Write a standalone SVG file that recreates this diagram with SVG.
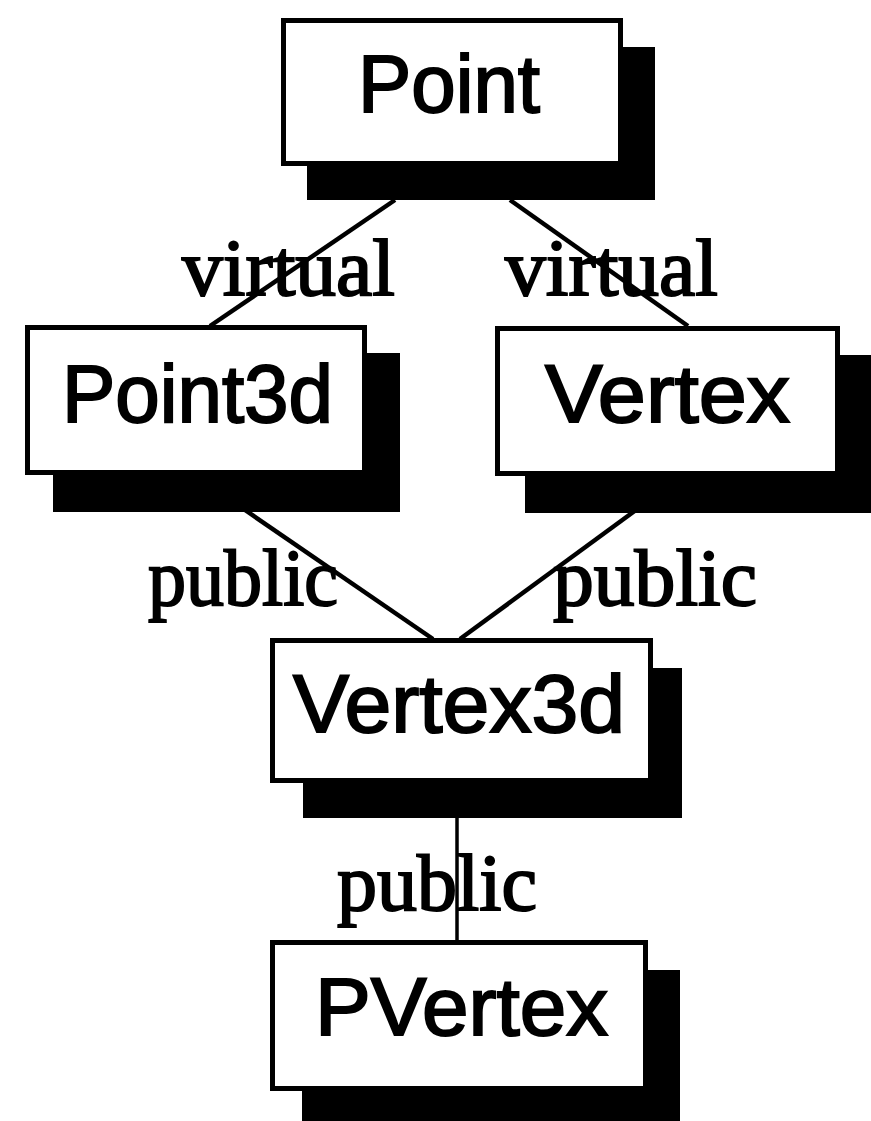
<svg xmlns="http://www.w3.org/2000/svg" width="871" height="1121" viewBox="0 0 871 1121">
<style>
.box{fill:#fff;stroke:#000;stroke-width:5}
.shadow{fill:#000}
.name{font-family:"Liberation Sans",Arial,sans-serif;font-size:82px;fill:#000;stroke:#000;stroke-width:2}
.lbl{font-family:"Liberation Serif","Times New Roman",serif;font-size:80px;fill:#000;stroke:#000;stroke-width:2}
.edge{stroke:#000;stroke-width:4.5;fill:none}
</style>
<rect width="871" height="1121" fill="#fff"/>
<g id="connectors">
<line class="edge" x1="395" y1="200" x2="210" y2="326"/>
<line class="edge" x1="510" y1="200" x2="688" y2="326"/>
<line class="edge" x1="245" y1="510" x2="433" y2="639"/>
<line class="edge" x1="636" y1="510" x2="460" y2="639"/>
<line class="edge" x1="457" y1="816" x2="457" y2="941" style="stroke-width:3.5"/>
<text class="lbl" x="182" y="295" textLength="213" lengthAdjust="spacingAndGlyphs">virtual</text>
<text class="lbl" x="505" y="295" textLength="213" lengthAdjust="spacingAndGlyphs">virtual</text>
<text class="lbl" x="148" y="605" textLength="190" lengthAdjust="spacingAndGlyphs">public</text>
<text class="lbl" x="553" y="605" textLength="204" lengthAdjust="spacingAndGlyphs">public</text>
<text class="lbl" x="337" y="910" textLength="200" lengthAdjust="spacingAndGlyphs">public</text>
</g>
<g id="node-point">
<rect class="shadow" x="307" y="47" width="348" height="153"/>
<rect class="box" x="283.5" y="20.5" width="337" height="143"/>
<text class="name" x="358" y="112" textLength="182" lengthAdjust="spacingAndGlyphs">Point</text>
</g>
<g id="node-point3d">
<rect class="shadow" x="53" y="353" width="347" height="159"/>
<rect class="box" x="27.5" y="327.5" width="337" height="145"/>
<text class="name" x="62" y="422" textLength="271" lengthAdjust="spacingAndGlyphs">Point3d</text>
</g>
<g id="node-vertex">
<rect class="shadow" x="525" y="355" width="360" height="158"/>
<rect class="box" x="497.5" y="328.5" width="340" height="145"/>
<text class="name" x="545" y="422" textLength="245" lengthAdjust="spacingAndGlyphs">Vertex</text>
</g>
<g id="node-vertex3d">
<rect class="shadow" x="303" y="668" width="379" height="150"/>
<rect class="box" x="272.5" y="640.5" width="378" height="140"/>
<text class="name" x="293" y="732" textLength="332" lengthAdjust="spacingAndGlyphs">Vertex3d</text>
</g>
<g id="node-pvertex">
<rect class="shadow" x="302" y="970" width="378" height="160"/>
<rect class="box" x="272.5" y="942.5" width="373" height="146"/>
<text class="name" x="315" y="1035" textLength="293" lengthAdjust="spacingAndGlyphs">PVertex</text>
</g>
</svg>
